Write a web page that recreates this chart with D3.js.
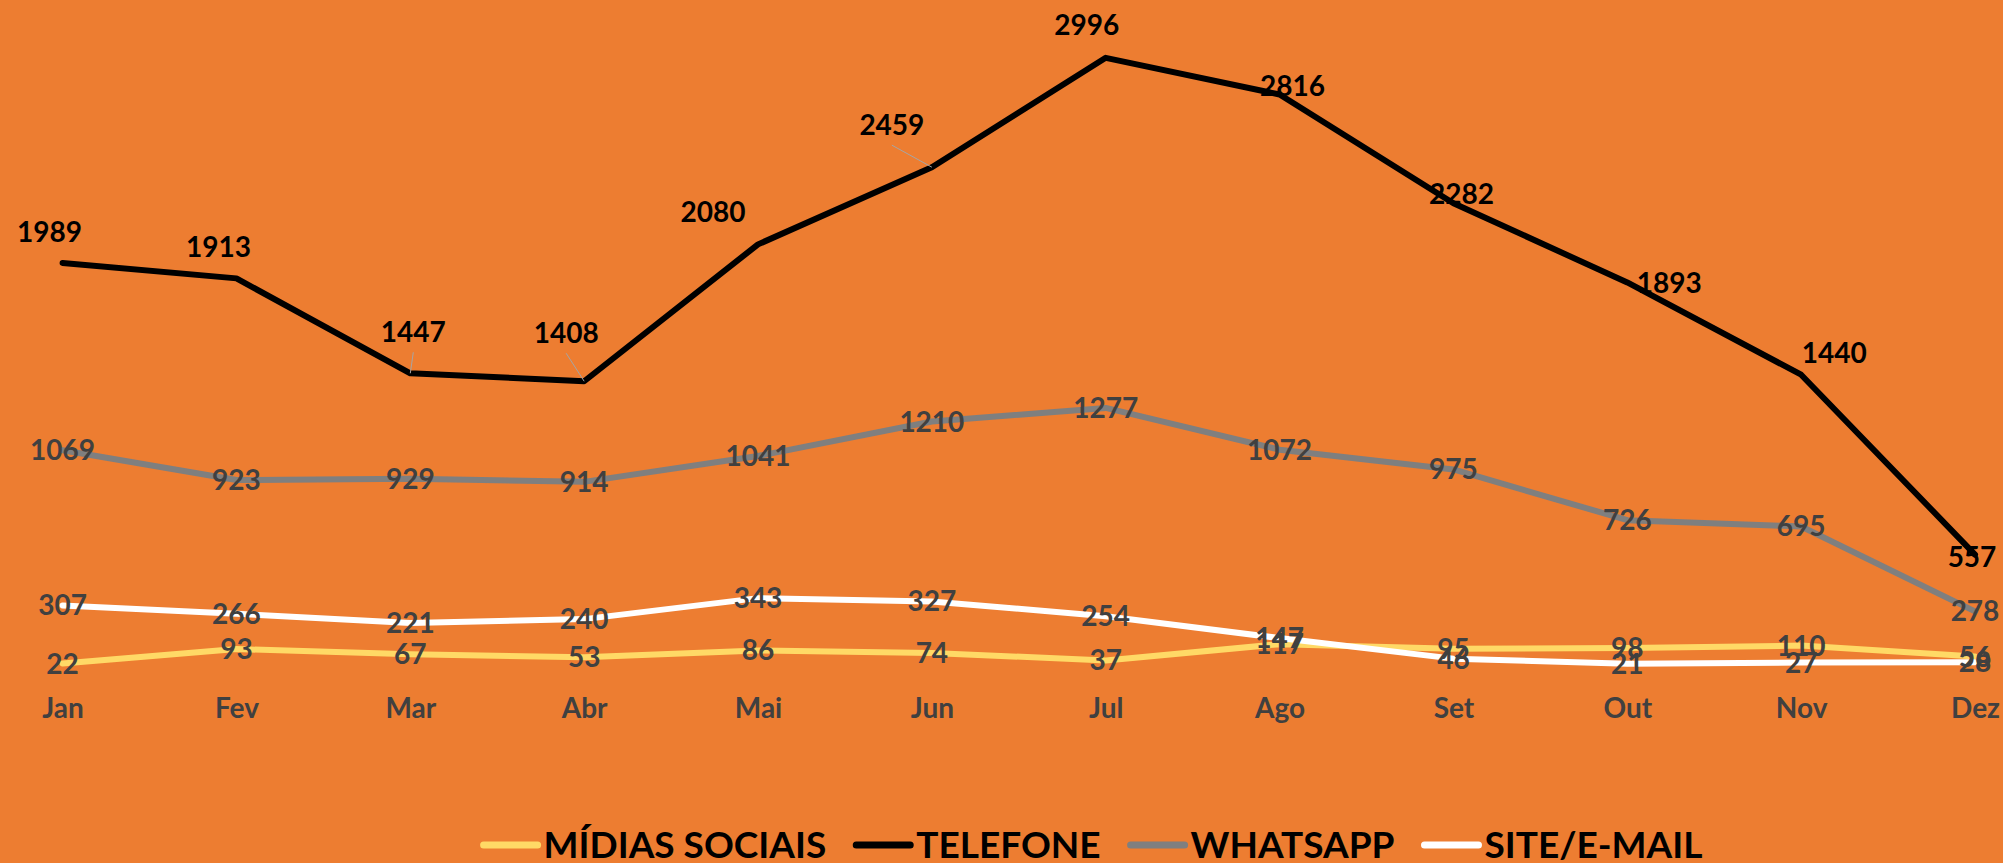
<!DOCTYPE html>
<html>
<head>
<meta charset="utf-8">
<script src="https://cdn.jsdelivr.net/npm/d3@7"></script>
<style>
    body { margin: 0; background: #ED7D31; }
    #chart text { font-family: "Lato", "Open Sans", sans-serif; font-weight: 700; }
</style>
</head>
<body>
<div id="chart"></div>
<script>
// chart values
const months = ["Jan", "Fev", "Mar", "Abr", "Mai", "Jun", "Jul", "Ago", "Set", "Out", "Nov", "Dez"];
const midias = [22, 93, 67, 53, 86, 74, 37, 117, 95, 98, 110, 56];
const telefone = [1989, 1913, 1447, 1408, 2080, 2459, 2996, 2816, 2282, 1893, 1440, 557];
const whatsapp = [1069, 923, 929, 914, 1041, 1210, 1277, 1072, 975, 726, 695, 278];
const site = [307, 266, 221, 240, 343, 327, 254, 147, 46, 21, 27, 28];
const seriesNames = ["MÍDIAS SOCIAIS", "TELEFONE", "WHATSAPP", "SITE/E-MAIL"];

// label nudges for the telefone series (the other labels sit on the point)
const phoneNudge = [
    [-13, -31], [-18, -31], [3, -41, true], [-18, -48, true], [-45, -32], [-40, -42, true],
    [-19, -33], [13, -8], [8, -9], [42, 1], [33, -22], [-3, 2]
];

const width = 2003;
const height = 863;
const capHalf = 10; // half the cap height of the label font

const colors = ["#FFD966", "#000000", "#7F7F7F", "#FFFFFF"];
const labelColors = ["#404040", "#000000", "#404040", "#404040"];

let svg = d3.select("#chart")
    .append("svg")
    .attr("width", width)
    .attr("height", height);

svg.append("rect")
    .attr("width", width)
    .attr("height", height)
    .attr("fill", "#ED7D31");

let x = d3.scalePoint()
    .domain(months)
    .range([62.6, 1975]);

let y = d3.scaleLinear()
    .domain([0, 3000])
    .range([668, 57]);

let series = [midias, telefone, whatsapp, site].map(function (vals, i) {
    return {
        name: seriesNames[i],
        color: colors[i],
        labelColor: labelColors[i],
        values: vals.map(function (v, j) { return {month: months[j], value: v, index: j}; })
    };
});

let line = d3.line()
    .x(function (d) { return x(d.month); })
    .y(function (d) { return y(d.value); });

// lines
svg.append("g")
    .selectAll("path")
    .data(series)
    .join("path")
    .attr("d", function (d) { return line(d.values); })
    .attr("fill", "none")
    .attr("stroke", function (d) { return d.color; })
    .attr("stroke-width", 6)
    .attr("stroke-linejoin", "round")
    .attr("stroke-linecap", "round");

// x axis, no line and no ticks
let xAxis = svg.append("g")
    .attr("transform", "translate(0, 698)")
    .call(d3.axisBottom(x).tickSize(0).tickPadding(0));
xAxis.select(".domain").remove();
xAxis.selectAll("text")
    .attr("dy", null)
    .attr("y", 20)
    .attr("fill", "#404040")
    .attr("font-size", 28);

// leader lines for the moved telefone labels
let phone = series[1];
svg.append("g")
    .selectAll("line")
    .data(phone.values.filter(function (d) { return phoneNudge[d.index][2]; }))
    .join("line")
    .attr("x1", function (d) { return x(d.month) + phoneNudge[d.index][0]; })
    .attr("y1", function (d) { return y(d.value) + phoneNudge[d.index][1] + 20; })
    .attr("x2", function (d) { return x(d.month); })
    .attr("y2", function (d) { return y(d.value); })
    .attr("stroke", "#A5A5A5")
    .attr("stroke-width", 1);

// data labels
let labels = svg.append("g")
    .selectAll("g")
    .data(series)
    .join("g")
    .attr("fill", function (d) { return d.labelColor; });

labels.selectAll("text")
    .data(function (d, i) {
        return d.values.map(function (v) { return {v: v, s: i}; });
    })
    .join("text")
    .attr("text-anchor", "middle")
    .attr("font-size", 28)
    .attr("x", function (d) {
        let dx = d.s === 1 ? phoneNudge[d.v.index][0] : 0;
        return x(d.v.month) + dx;
    })
    .attr("y", function (d) {
        let dy = d.s === 1 ? phoneNudge[d.v.index][1] : 0;
        return y(d.v.value) + dy + capHalf;
    })
    .text(function (d) { return d.v.value; });

// legend along the bottom
let legend = svg.append("g")
    .attr("transform", "translate(0, 845)");

let items = legend.selectAll("g")
    .data(series)
    .join("g");

items.append("line")
    .attr("x1", 0)
    .attr("x2", 54)
    .attr("stroke", function (d) { return d.color; })
    .attr("stroke-width", 7)
    .attr("stroke-linecap", "round");

items.append("text")
    .attr("x", 60)
    .attr("y", 13)
    .attr("font-size", 37)
    .attr("fill", "#000000")
    .text(function (d) { return d.name; });

// place the items one after another, centred
let pos = 0;
let offsets = [];
items.each(function () {
    offsets.push(pos);
    pos += 60 + d3.select(this).select("text").node().getComputedTextLength() + 30;
});
let start = 1093 - (pos - 30) / 2;
items.attr("transform", function (d, i) { return "translate(" + (start + offsets[i]) + ",0)"; });
</script>
</body>
</html>
